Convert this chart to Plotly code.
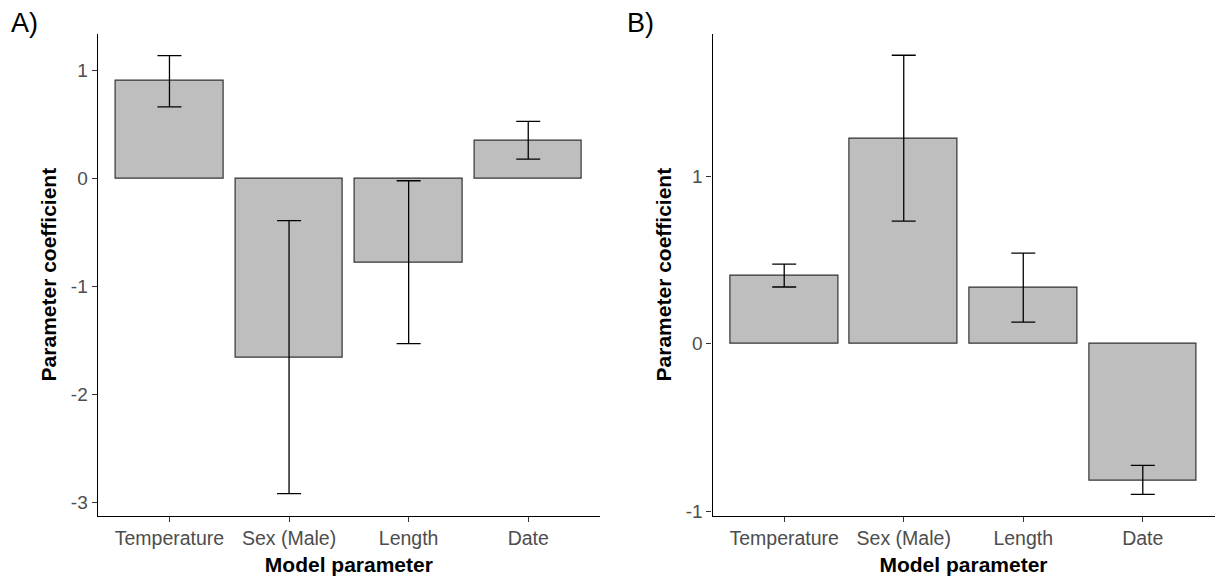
import plotly.graph_objects as go

categories = ["Temperature", "Sex (Male)", "Length", "Date"]

# Panel A
a_est = [0.905, -1.655, -0.775, 0.35]
a_low = [0.664, -2.92, -1.53, 0.18]
a_high = [1.14, -0.39, -0.02, 0.53]
a_ticks = [-3, -2, -1, 0, 1]
a_ticklabels = ["-3", "-2", "-1", "0", "1"]

# Panel B
b_est = [0.407, 1.224, 0.336, -0.815]
b_low = [0.338, 0.731, 0.129, -0.899]
b_high = [0.475, 1.721, 0.540, -0.727]
b_ticks = [-1, 0, 1]
b_ticklabels = ["-1", "0", "1"]

FONT = "Liberation Sans, Arial, sans-serif"
W, H = 1215, 576

fig = go.Figure()

def add_panel(est, low, high, xa, ya):
    fig.add_trace(go.Bar(
        x=categories, y=est, width=0.9,
        marker=dict(color="#BEBEBE", line=dict(color="#333333", width=1.2)),
        error_y=dict(type="data", symmetric=False,
                     array=[h - e for h, e in zip(high, est)],
                     arrayminus=[e - l for e, l in zip(est, low)],
                     color="black", thickness=1.3, width=12),
        xaxis=xa, yaxis=ya, showlegend=False, hoverinfo="skip"))

add_panel(a_est, a_low, a_high, "x", "y")
add_panel(b_est, b_low, b_high, "x2", "y2")

top, bottom = 34, 521
ydom = [1 - bottom / H, 1 - top / H]

common_x = dict(type="category", range=[-0.6, 3.6], showline=True, linecolor="black",
                linewidth=1.3, ticks="outside", ticklen=5, tickcolor="#333333", tickwidth=1.2,
                tickfont=dict(family=FONT, size=19.5, color="#4D4D4D"), showgrid=False,
                zeroline=False,
                title=dict(text="<b>Model parameter</b>", font=dict(family=FONT, size=21, color="black"), standoff=9))
common_y = dict(showline=True, linecolor="black", linewidth=1.3, ticks="outside", ticklen=5,
                tickcolor="#333333", tickwidth=1.2,
                tickfont=dict(family=FONT, size=19, color="#4D4D4D"), showgrid=False, zeroline=False,
                title=dict(text="<b>Parameter coefficient</b>", font=dict(family=FONT, size=21, color="black"), standoff=8))

fig.update_layout(
    width=W, height=H,
    margin=dict(l=0, r=0, t=0, b=0),
    paper_bgcolor="white", plot_bgcolor="white",
    bargap=0,
    xaxis=dict(common_x, domain=[97.7 / W, 600 / W], anchor="y"),
    yaxis=dict(common_y, domain=ydom, range=[-3.123, 1.343], tickvals=a_ticks, ticktext=a_ticklabels, anchor="x"),
    xaxis2=dict(common_x, domain=[712.5 / W, 1214.5 / W], anchor="y2"),
    yaxis2=dict(common_y, domain=ydom, range=[-1.026, 1.850], tickvals=b_ticks, ticktext=b_ticklabels, anchor="x2"),
    annotations=[
        dict(text="A)", x=9 / W, y=1 - 23 / H, xref="paper", yref="paper", xanchor="left", yanchor="middle",
             showarrow=False, font=dict(family=FONT, size=27, color="black")),
        dict(text="B)", x=625 / W, y=1 - 23 / H, xref="paper", yref="paper", xanchor="left", yanchor="middle",
             showarrow=False, font=dict(family=FONT, size=27, color="black")),
    ],
)

fig.write_html("out.html", config={"displayModeBar": False},
               post_script="document.body.style.margin='0';document.body.style.padding='0';")
